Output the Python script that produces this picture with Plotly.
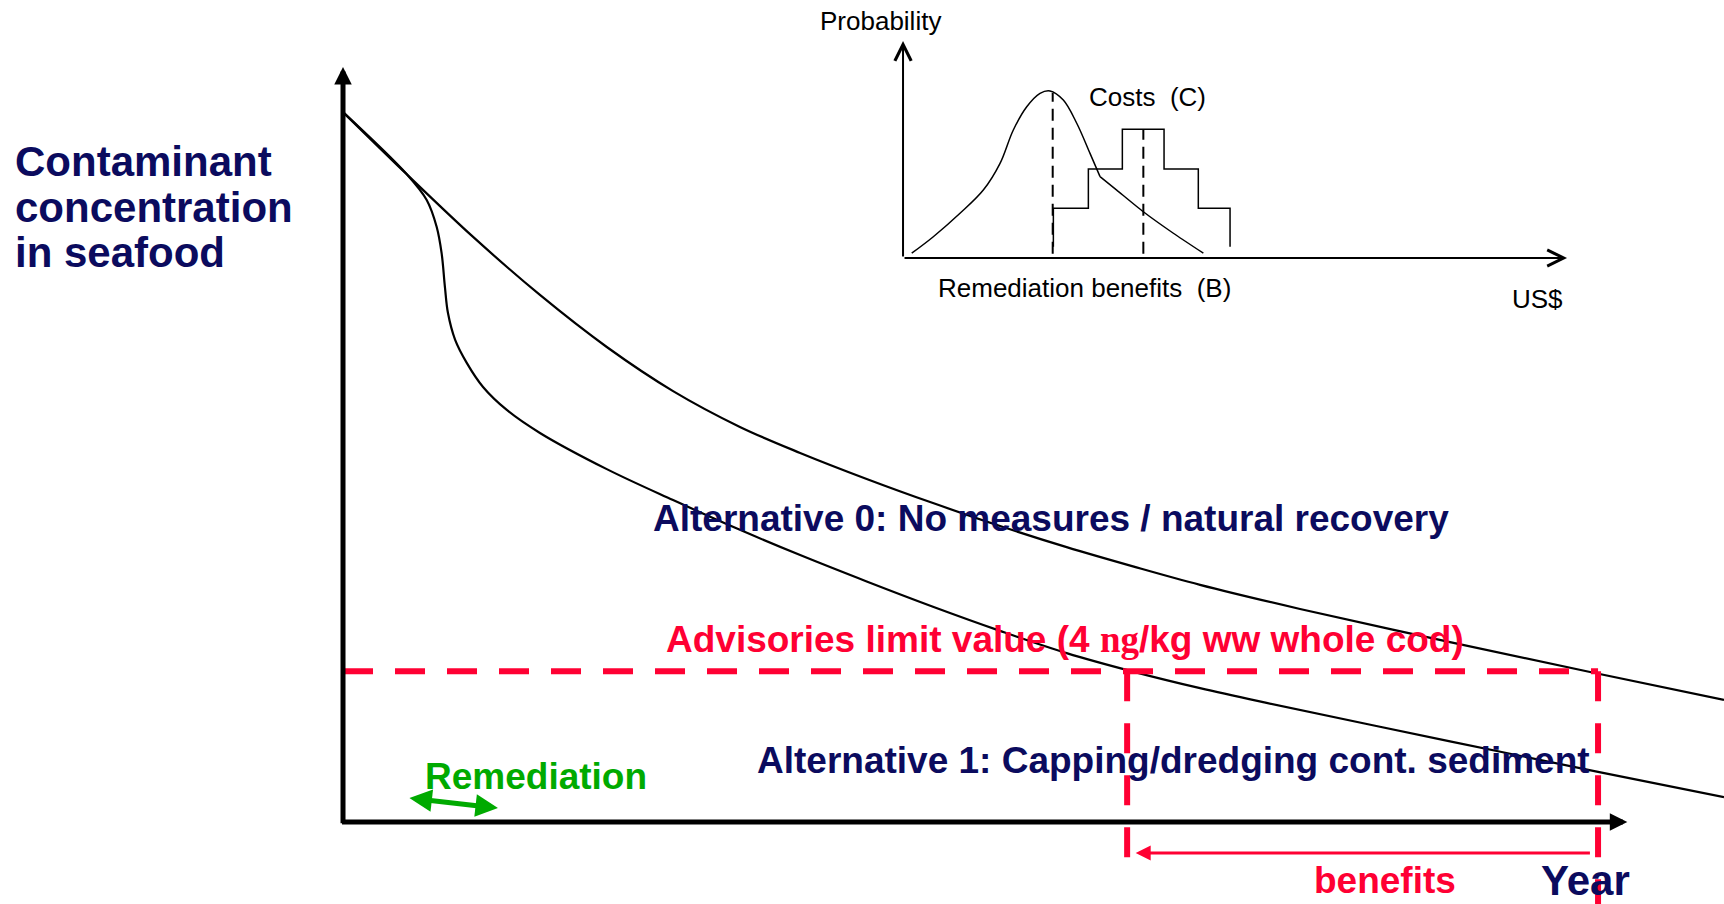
import plotly.graph_objects as go

# ---------------- data ----------------
# Main chart: contaminant concentration in seafood vs. year
years_alt0 = [0, 2.31, 4.71, 7.13, 9.55, 11.95, 14.37, 16.55, 18.96, 21.36, 23.79,
              26.20, 28.60, 31.03, 34.65, 40.08, 45.15, 50.0]
conc_alt0 = [18.83, 17.18, 15.52, 13.98, 12.60, 11.43, 10.48, 9.79, 9.10, 8.46, 7.85,
             7.29, 6.78, 6.29, 5.65, 4.77, 3.98, 3.24]

years_alt1 = [0, 2.31, 3.03, 3.39, 3.57, 3.69, 3.80, 4.06, 4.48, 5.07, 5.93, 7.13, 9.55,
              11.95, 14.37, 16.55, 18.96, 21.36, 23.79, 26.20, 28.60, 31.03, 33.44,
              40.08, 45.44, 50.0]
conc_alt1 = [18.83, 17.18, 16.50, 15.79, 15.09, 14.19, 13.50, 12.79, 12.18, 11.54, 10.93,
             10.32, 9.36, 8.54, 7.75, 7.08, 6.38, 5.71, 5.07, 4.48, 3.99, 3.55, 3.16,
             2.14, 1.33, 0.66]

limit_value = 4.0                 # ng/kg ww whole cod
year_limit_alt1 = 28.39           # year alternative 1 reaches the limit
year_limit_alt0 = 45.44           # year alternative 0 reaches the limit
remediation_years = [2.35, 5.61]
remediation_conc = [0.64, 0.37]

# Inset: probability distributions (US$)
bell_x = [1.31, 4.56, 8.58, 12.09, 14.61, 16.61, 18.63, 20.63, 22.14, 24.14, 26.16, 28.16,
          29.67, 32.18, 36.19, 40.71, 45.23]
bell_y = [0.22, 0.98, 2.06, 3.13, 4.36, 5.90, 6.97, 7.59, 7.70, 7.28, 6.21, 4.82,
          3.75, 3.13, 2.13, 1.14, 0.22]
bell_kink_index = 12
benefit_mode = 22.54
cost_edges = [22.64, 27.91, 33.03, 39.31, 44.47, 49.25]
cost_levels = [2.29, 4.10, 5.93, 4.10, 2.29]
cost_base = 0.52
cost_median = 36.19
dash_base = 0.2

# ---------------- styles ----------------
NAVY = "#0B0B5E"
RED = "#FF0033"
GREEN = "#00AA00"
FONT = "Liberation Sans, Arial, sans-serif"

fig = go.Figure()

# main curves
fig.add_trace(go.Scatter(x=years_alt0, y=conc_alt0, mode="lines",
                         line=dict(color="black", width=2.2, shape="spline", smoothing=1.0),
                         hoverinfo="skip"))
fig.add_trace(go.Scatter(x=years_alt1, y=conc_alt1, mode="lines",
                         line=dict(color="black", width=2.2, shape="spline", smoothing=1.0),
                         hoverinfo="skip"))

# advisory limit (dashed red)
red_dash = "30px,22px"
fig.add_trace(go.Scatter(x=[0, year_limit_alt0], y=[limit_value, limit_value], mode="lines",
                         line=dict(color=RED, width=6, dash=red_dash), hoverinfo="skip"))
fig.add_trace(go.Scatter(x=[year_limit_alt1, year_limit_alt1], y=[limit_value, -1.33], mode="lines",
                         line=dict(color=RED, width=6, dash=red_dash), hoverinfo="skip"))
fig.add_trace(go.Scatter(x=[year_limit_alt0, year_limit_alt0], y=[limit_value, -2.3], mode="lines",
                         line=dict(color=RED, width=6, dash=red_dash), hoverinfo="skip"))

# inset curves: benefits distribution (smooth body + straight-ish tail)
k = bell_kink_index
fig.add_trace(go.Scatter(x=bell_x[:k + 1], y=bell_y[:k + 1], mode="lines", xaxis="x2", yaxis="y2",
                         line=dict(color="black", width=1.5, shape="spline", smoothing=1.0),
                         hoverinfo="skip"))
fig.add_trace(go.Scatter(x=bell_x[k:], y=bell_y[k:], mode="lines", xaxis="x2", yaxis="y2",
                         line=dict(color="black", width=1.5, shape="spline", smoothing=0.5),
                         hoverinfo="skip"))
# costs distribution (steps)
step_x, step_y = [cost_edges[0]], [cost_base]
for i, lvl in enumerate(cost_levels):
    step_x += [cost_edges[i], cost_edges[i + 1]]
    step_y += [lvl, lvl]
step_x.append(cost_edges[-1])
step_y.append(cost_base)
fig.add_trace(go.Scatter(x=step_x, y=step_y, mode="lines", xaxis="x2", yaxis="y2",
                         line=dict(color="black", width=1.5), hoverinfo="skip"))
fig.add_trace(go.Scatter(x=[benefit_mode, benefit_mode], y=[dash_base, max(bell_y) - 0.1],
                         mode="lines", xaxis="x2", yaxis="y2",
                         line=dict(color="black", width=2, dash="12px,7px"), hoverinfo="skip"))
fig.add_trace(go.Scatter(x=[cost_median, cost_median], y=[dash_base, max(cost_levels)],
                         mode="lines", xaxis="x2", yaxis="y2",
                         line=dict(color="black", width=2, dash="12px,7px"), hoverinfo="skip"))

ann = []


def arrow(x, y, ax, ay, xr="x", yr="y", **kw):
    d = dict(x=x, y=y, ax=ax, ay=ay, xref=xr, yref=yr, axref=xr, ayref=yr,
             showarrow=True, text="")
    d.update(kw)
    ann.append(d)


# main axes arrows
arrow(0, 20.03, 0, -0.07, arrowhead=2, arrowsize=0.7, arrowwidth=5, arrowcolor="black")
arrow(46.5, 0, -0.09, 0, arrowhead=2, arrowsize=0.7, arrowwidth=5, arrowcolor="black")
# remediation double arrow
arrow(remediation_years[1], remediation_conc[1], remediation_years[0], remediation_conc[0],
      arrowhead=2, startarrowhead=2, arrowside="end+start", arrowsize=0.9, startarrowsize=0.9,
      arrowwidth=5, arrowcolor=GREEN)
# benefits arrow
arrow(28.7, -0.82, 45.2, -0.82, arrowhead=2, arrowsize=1.0, arrowwidth=3, arrowcolor=RED)
# inset axes arrows
arrow(0, 10.0, 0, 0, xr="x2", yr="y2", arrowhead=5, arrowsize=1.6, arrowwidth=2, arrowcolor="black")
arrow(100, 0, 0, 0, xr="x2", yr="y2", arrowhead=5, arrowsize=1.6, arrowwidth=2, arrowcolor="black")


def label(text, x, y, size, color, xanchor="left", xr="x", yr="y", bold=True):
    ann.append(dict(text=text, x=x, y=y, xref=xr, yref=yr, showarrow=False,
                    xanchor=xanchor, yanchor="middle",
                    font=dict(family=FONT, size=size, color=color,
                              weight="bold" if bold else "normal")))


label("Contaminant", -11.95, 17.52, 42, NAVY)
label("concentration", -11.95, 16.29, 42, NAVY)
label("in seafood", -11.95, 15.10, 42, NAVY)
label("Alternative 0: No measures / natural recovery", 11.15, 8.06, 37, NAVY)
label('Advisories limit value (4 <span style="font-family:Liberation Serif">ng</span>/kg ww whole cod)',
      11.62, 4.83, 37, RED)
label("Alternative 1: Capping/dredging cont. sediment", 14.92, 1.62, 37, NAVY)
label("Remediation", 2.90, 1.22, 37, GREEN)
label("benefits", 37.73, -1.54, 37, RED, xanchor="center")
label("Year", 44.98, -1.56, 42, NAVY, xanchor="center")

label("Probability", -3.46, 10.92, 26, "black", xanchor="center", xr="x2", yr="y2", bold=False)
label("Costs  (C)", 36.75, 7.42, 26, "black", xanchor="center", xr="x2", yr="y2", bold=False)
label("Remediation benefits  (B)", 27.4, -1.38, 26, "black", xanchor="center", xr="x2", yr="y2", bold=False)
label("US$", 95.5, -1.89, 26, "black", xanchor="center", xr="x2", yr="y2", bold=False)

hidden = dict(visible=False, showgrid=False, zeroline=False, fixedrange=True)
fig.update_layout(
    width=1724, height=904,
    margin=dict(l=0, r=0, t=0, b=0),
    paper_bgcolor="white", plot_bgcolor="white",
    showlegend=False,
    xaxis=dict(range=[-12.419, 50.0], domain=[0, 1], **hidden),
    yaxis=dict(range=[-2.175, 21.804], domain=[0, 1], **hidden),
    xaxis2=dict(range=[-136.0, 123.64], domain=[0, 1], overlaying="x", anchor="y2", **hidden),
    yaxis2=dict(range=[-29.77, 11.889], domain=[0, 1], overlaying="y", anchor="x2", **hidden),
    annotations=ann,
)

fig.write_html("out.html", config={"displayModeBar": False},
               post_script="document.body.style.margin='0';")
